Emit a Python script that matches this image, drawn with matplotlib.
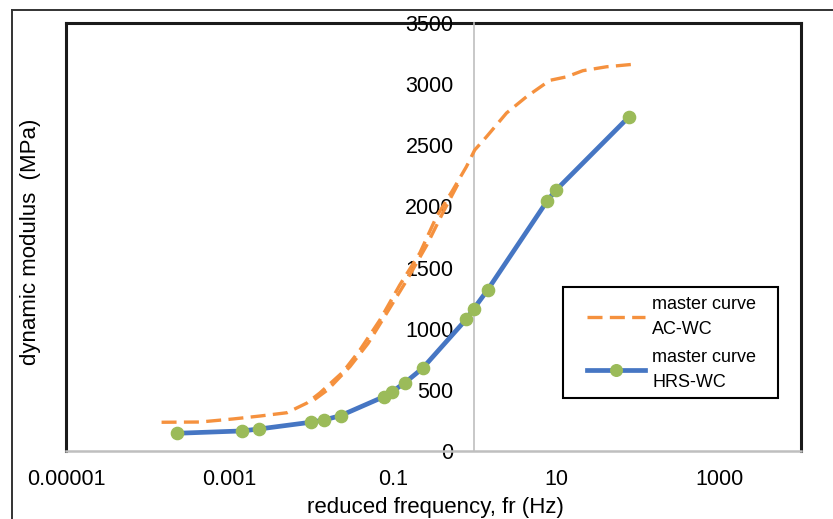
import matplotlib
matplotlib.use("Agg")
import matplotlib.pyplot as plt
from matplotlib.lines import Line2D
from matplotlib.patches import Rectangle
from matplotlib.ticker import FixedLocator, FixedFormatter, NullLocator

plt.rcParams['font.family'] = ['Liberation Sans', 'DejaVu Sans']

# ---- data ----
hrs_freq = [2.30e-4, 1.42e-3, 2.32e-3, 9.9e-3, 1.43e-2, 2.30e-2, 0.078, 0.0986,
            0.141, 0.232, 0.80, 0.986, 1.45, 7.78, 9.95, 77.8]
hrs_mod = [145, 164, 180, 235, 253, 289, 444, 485, 558, 676, 1079, 1164, 1316,
           2044, 2132, 2731]

ac_freq = [1.48e-4, 4.36e-4, 1.11e-3, 2.37e-3, 5.07e-3, 8.9e-3, 1.28e-2, 2.46e-2,
           0.0397, 0.0697, 0.122, 0.215, 0.344, 0.545, 0.80, 1.01, 1.41, 2.48,
           4.35, 8.4, 13.5, 21.3, 41.5, 87.0]
ac_mod = [235, 237, 262, 286, 313, 392, 474, 646, 826, 1071, 1357, 1619, 1916,
          2134, 2325, 2461, 2570, 2764, 2897, 3031, 3060, 3110, 3142, 3162]
# overlapping second branch of the AC-WC master curve
ac_freq2 = [1.1e-2, 1.6e-2, 3.0e-2, 0.05, 0.085, 0.15, 0.26, 0.42, 0.65]
ac_mod2 = [420, 500, 690, 880, 1130, 1400, 1680, 1960, 2200]

x_ticks = [1e-5, 1e-3, 0.1, 10, 1000]
x_labels = ['0.00001', '0.001', '0.1', '10', '1000']
y_ticks = [0, 500, 1000, 1500, 2000, 2500, 3000, 3500]

orange = '#F5913E'
blue = '#4676C3'
green = '#9BBB59'

W, H = 833, 519
fig = plt.figure(figsize=(W / 100, H / 100), dpi=100)
ax = fig.add_axes([66 / W, 1 - 451 / H, (801 - 66) / W, (451 - 23) / H])

ax.plot(ac_freq, ac_mod, color=orange, lw=2.4, dashes=(4.5, 2.2),
        label='master curve\nAC-WC', zorder=3)
ax.plot(ac_freq2, ac_mod2, color=orange, lw=2.4, dashes=(4.5, 2.2), zorder=3)
ax.plot(hrs_freq, hrs_mod, color=blue, lw=3.4, marker='o', ms=8.8,
        mfc=green, mec=green, label='master curve\nHRS-WC', zorder=4)

ax.set_xscale('log')
ax.set_xlim(1e-5, 1e4)
ax.set_ylim(0, 3500)

ax.xaxis.set_major_locator(FixedLocator(x_ticks))
ax.xaxis.set_major_formatter(FixedFormatter(x_labels))
ax.xaxis.set_minor_locator(NullLocator())
ax.set_yticks(y_ticks)
ax.set_yticklabels([str(v) for v in y_ticks])
ax.tick_params(axis='x', length=0, pad=13, labelsize=15.5)
ax.tick_params(axis='y', length=0, pad=15, labelsize=15.5)

# y axis crosses at x = 1
ax.spines['left'].set_position(('data', 1))
ax.spines['left'].set_color('#BFBFBF')
ax.spines['left'].set_linewidth(1.2)
ax.spines['bottom'].set_color('#BFBFBF')
ax.spines['bottom'].set_linewidth(1.8)
ax.spines['top'].set_visible(False)
ax.spines['right'].set_visible(False)

# plot-area frame
for xs, ys in [([0, 0], [0, 1]), ([0, 1], [1, 1]), ([1, 1], [1, 0])]:
    ax.add_line(Line2D(xs, ys, transform=ax.transAxes, color='#1a1a1a',
                       lw=2.2, clip_on=False, zorder=1))

ax.set_xlabel('reduced frequency, fr (Hz)', fontsize=16)
ax.set_ylabel('dynamic modulus  (MPa)', fontsize=16)
ax.xaxis.set_label_coords(0.503, (451 - 508) / 428)
ax.yaxis.set_label_coords((31 - 66) / 735, 0.488)
ax.xaxis.label.set_verticalalignment('center')
ax.yaxis.label.set_verticalalignment('center')

# legend box
ax.add_patch(Rectangle((563 / W, 1 - 398 / H), (778 - 563) / W, (398 - 287) / H,
                       transform=fig.transFigure, facecolor='white',
                       edgecolor='black', lw=1.5, zorder=5, clip_on=False))
leg = ax.legend(loc='center left', bbox_to_anchor=(587 / W, 1 - 343.5 / H),
                bbox_transform=fig.transFigure, borderaxespad=0, borderpad=0,
                fontsize=13, frameon=False, handlelength=3.2,
                handletextpad=0.4, labelspacing=0.6, markerscale=0.95)
leg.set_zorder(6)
for t in leg.get_texts():
    t.set_linespacing(1.6)

# outer chart border
fig.add_artist(Line2D([12 / W, 12 / W], [0, 1 - 10 / H], transform=fig.transFigure,
                      color='#333333', lw=1.4))
fig.add_artist(Line2D([12 / W, 1], [1 - 10 / H, 1 - 10 / H], transform=fig.transFigure,
                      color='#333333', lw=1.4))

fig.savefig('out.png', dpi=100)
